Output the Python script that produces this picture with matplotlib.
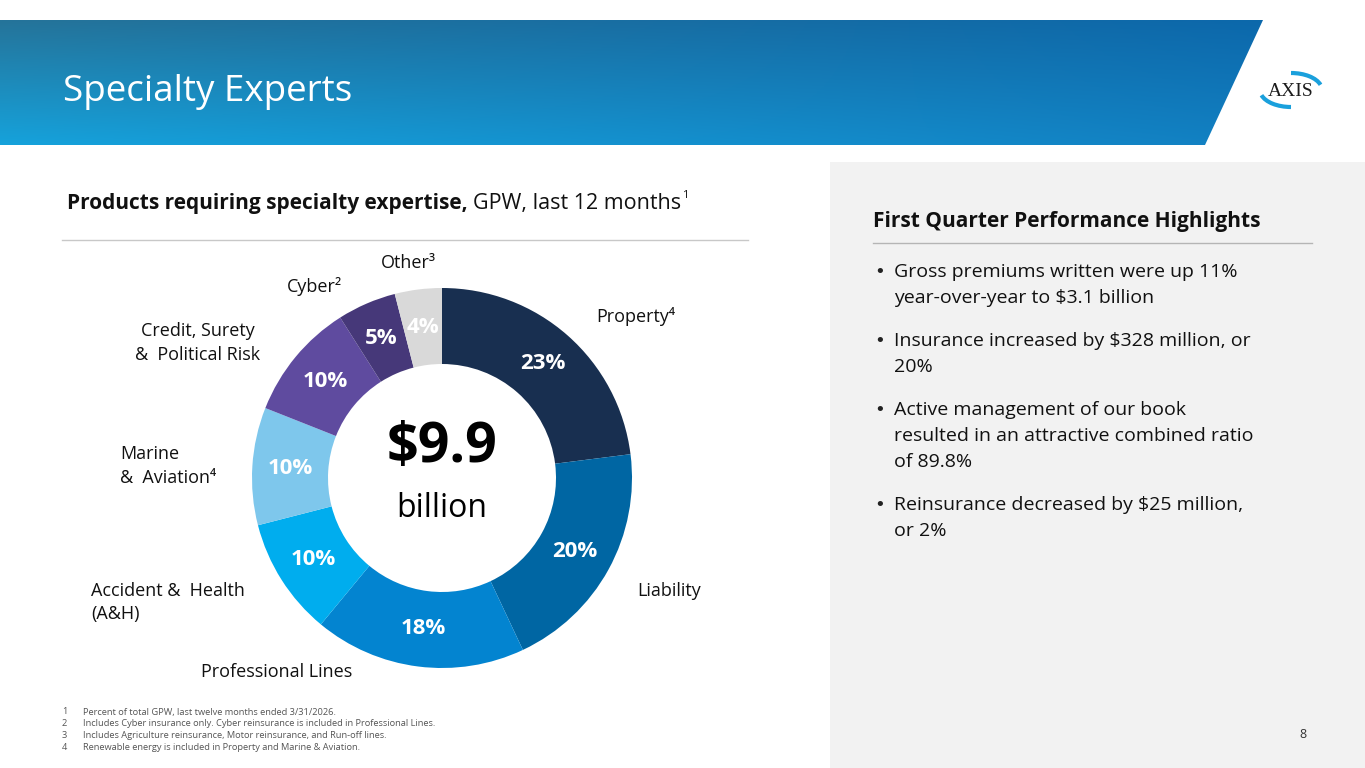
import matplotlib
matplotlib.use("Agg")
import matplotlib.pyplot as plt
import numpy as np
from matplotlib.patches import Polygon, Rectangle, Arc

FONT = ["Open Sans", "DejaVu Sans"]
plt.rcParams['font.family'] = FONT

# data
segments = ["Property", "Liability", "Professional Lines", "Accident & Health",
            "Marine & Aviation", "Credit, Surety & Political Risk", "Cyber", "Other"]
shares = [23, 20, 18, 10, 10, 10, 5, 4]
colors = ["#182f50", "#0066a3", "#0384d0", "#00adee", "#7ec7ec", "#5f4b9f", "#463879", "#d9d9d9"]
total_gpw = "$9.9"

bullets = [
    ["Gross premiums written were up 11%", "year-over-year to $3.1 billion"],
    ["Insurance increased by $328 million, or", "20%"],
    ["Active management of our book", "resulted in an attractive combined ratio", "of 89.8%"],
    ["Reinsurance decreased by $25 million,", "or 2%"],
]
footnotes = [
    "Percent of total GPW, last twelve months ended 3/31/2026.",
    "Includes Cyber insurance only. Cyber reinsurance is included in Professional Lines.",
    "Includes Agriculture reinsurance, Motor reinsurance, and Run-off lines.",
    "Renewable energy is included in Property and Marine & Aviation.",
]

W, H = 1365, 768
fig = plt.figure(figsize=(W / 100, H / 100), dpi=100)
bg = fig.add_axes([0, 0, 1, 1])
bg.set_xlim(0, W)
bg.set_ylim(H, 0)
bg.axis("off")

# header banner with gradient
tl = np.array([0x25, 0x74, 0x9a]) / 255
tr = np.array([0x0c, 0x68, 0xab]) / 255
bl = np.array([0x16, 0xa2, 0xdb]) / 255
br = np.array([0x12, 0x80, 0xc2]) / 255
u = np.linspace(0, 1, 300)[None, :, None]
v = np.linspace(0, 1, 60)[:, None, None]
grad = (1 - v) * ((1 - u) * tl + u * tr) + v * ((1 - u) * bl + u * br)
im = bg.imshow(grad, extent=[0, 1263, 145, 20], aspect="auto", zorder=1)
banner = Polygon([(0, 20), (1263, 20), (1205, 145), (0, 145)], closed=True,
                 facecolor="none", edgecolor="none")
bg.add_patch(banner)
im.set_clip_path(banner)
bg.set_xlim(0, W)
bg.set_ylim(H, 0)
bg.text(63, 92, "Specialty Experts", color="white", fontsize=26.5, va="center", ha="left", zorder=3)

# logo
bg.text(1291, 92, "AXIS", family=["Liberation Serif"], fontsize=14, color="#1c1c1c",
        ha="center", va="center", zorder=3)
bg.add_patch(Arc((1291, 90), 62, 34, theta1=-90, theta2=-10, color="#1aa0dc", lw=3, zorder=3))
bg.add_patch(Arc((1291, 90), 62, 34, theta1=90, theta2=170, color="#1aa0dc", lw=3, zorder=3))

# right panel
bg.add_patch(Rectangle((830, 162), W - 830, H - 162, facecolor="#f2f2f2", edgecolor="none", zorder=0))
bg.text(873, 222, "First Quarter Performance Highlights", fontsize=15, fontweight="bold",
        color="#111111", va="center", ha="left")
bg.plot([873, 1312], [243, 243], color="#b5b5b5", lw=1)
y = 272
for lines in bullets:
    bg.text(874, y, "\u2022", family=["DejaVu Sans"], fontsize=13, color="#222222",
            va="center", ha="left")
    for ln in lines:
        bg.text(894, y, ln, fontsize=14, color="#111111", va="center", ha="left")
        y += 26
    y += 17

# subtitle
t1 = bg.text(67, 204, "Products requiring specialty expertise,", fontsize=15, fontweight="bold",
             color="#111111", va="center", ha="left")
fig.canvas.draw()
bb = t1.get_window_extent()
x2 = bb.x1 + 5
t2 = bg.text(x2, 204, "GPW, last 12 months", fontsize=15.5, color="#111111", va="center", ha="left")
fig.canvas.draw()
bb2 = t2.get_window_extent()
bg.text(bb2.x1 + 1, 195, "1", fontsize=8, color="#111111", va="center", ha="left")
bg.plot([62, 748], [240, 240], color="#c8c8c8", lw=1)

# donut
cx, cy, r = 442, 478, 190
pie_ax = fig.add_axes([(cx - r) / W, (H - cy - r) / H, 2 * r / W, 2 * r / H])
pie_ax.patch.set_alpha(0)
wedges, texts, autotexts = pie_ax.pie(
    shares, colors=colors, startangle=90, counterclock=False, radius=1,
    autopct="%d%%", pctdistance=0.8, wedgeprops=dict(width=0.4, edgecolor="none"),
    textprops=dict(color="white", fontsize=16, fontweight="bold"))
pie_ax.set_xlim(-1, 1)
pie_ax.set_ylim(-1, 1)
pie_ax.set_aspect("equal")
pie_ax.text(0, 0.16, total_gpw, fontsize=40, fontweight="bold", color="black", ha="center", va="center")
pie_ax.text(0, -0.16, "billion", fontsize=23, color="black", ha="center", va="center")

# segment labels (pixel positions)
lab = dict(fontsize=13, color="#111111", va="center")
bg.text(596, 316, "Property\u2074", ha="left", **lab)
bg.text(637, 591, "Liability", ha="left", **lab)
bg.text(277, 672, "Professional Lines", ha="center", **lab)
bg.text(91, 591, "Accident &  Health", ha="left", **lab)
bg.text(91, 614, "(A&H)", ha="left", **lab)
bg.text(120, 454, "Marine", ha="left", **lab)
bg.text(120, 478, "&  Aviation\u2074", ha="left", **lab)
bg.text(198, 331, "Credit, Surety", ha="center", **lab)
bg.text(198, 355, "&  Political Risk", ha="center", **lab)
bg.text(315, 287, "Cyber\u00b2", ha="center", **lab)
bg.text(408, 263, "Other\u00b3", ha="center", **lab)

# footnotes
for i, fn in enumerate(footnotes):
    fy = 712 + i * 12
    bg.text(62, fy, str(i + 1), fontsize=6.7, color="#555555", va="center", ha="left")
    bg.text(83, fy, fn, fontsize=6.7, color="#555555", va="center", ha="left")
bg.text(1303, 735, "8", fontsize=9, color="#333333", va="center", ha="center")

fig.savefig("out.png", dpi=100)
